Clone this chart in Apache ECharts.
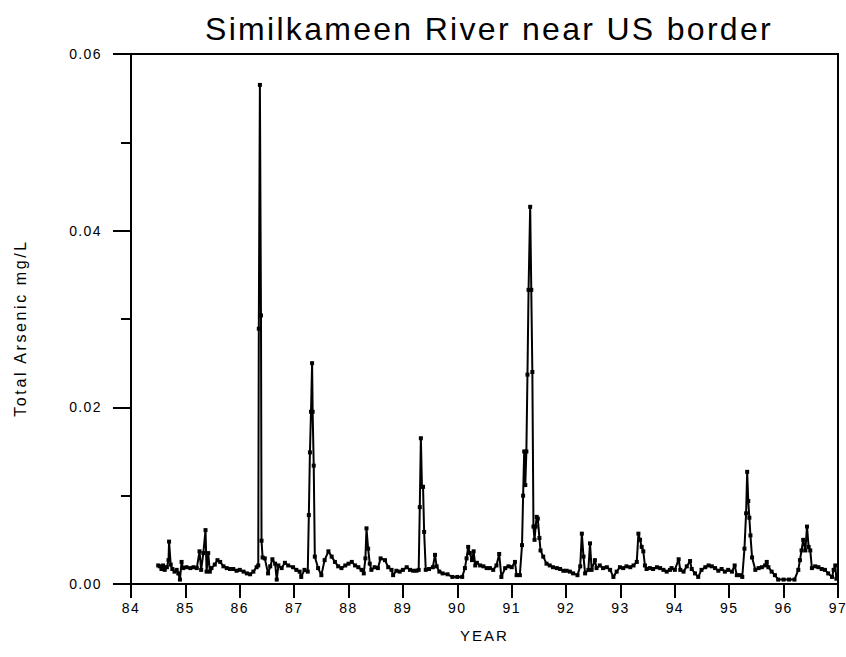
<!DOCTYPE html>
<html><head><meta charset="utf-8">
<script src="https://cdn.jsdelivr.net/npm/echarts@6/dist/echarts.min.js"></script>
<style>
html,body{margin:0;padding:0;background:#fff}
#c{width:846px;height:657px}
#c text[style*="32px"]{letter-spacing:2.3px}
#c text[style*="16px"]{letter-spacing:2.6px}
#c text[style*="15px"]{letter-spacing:2px}
#c text[style*="14px"]{letter-spacing:1.4px}
</style>
</head><body><div id="c"></div>
<script>
const titleText = "Similkameen River near US border";
const yName = "Total Arsenic mg/L";
const xName = "YEAR";
const yearTicks = [84,85,86,87,88,89,90,91,92,93,94,95,96,97];
const years = [84.50,84.53,84.56,84.59,84.62,84.66,84.69,84.70,84.73,84.76,84.80,84.84,84.87,84.90,84.93,84.96,85.02,85.09,85.15,85.21,85.26,85.29,85.33,85.37,85.39,85.42,85.45,85.48,85.54,85.59,85.64,85.70,85.76,85.82,85.88,85.94,86.00,86.07,86.13,86.19,86.25,86.31,86.34,86.35,86.37,86.39,86.40,86.42,86.46,86.52,86.56,86.60,86.65,86.68,86.71,86.77,86.83,86.89,86.98,87.04,87.10,87.13,87.19,87.25,87.27,87.29,87.31,87.33,87.34,87.36,87.38,87.44,87.50,87.56,87.63,87.69,87.75,87.81,87.87,87.94,88.00,88.06,88.12,88.18,88.24,88.28,88.31,88.33,88.36,88.39,88.42,88.48,88.54,88.59,88.67,88.73,88.79,88.82,88.88,88.94,89.00,89.07,89.13,89.19,89.25,89.29,89.31,89.33,89.35,89.37,89.39,89.42,89.48,89.55,89.59,89.62,89.67,89.73,89.82,89.91,90.00,90.09,90.14,90.17,90.20,90.23,90.27,90.30,90.33,90.36,90.42,90.48,90.54,90.60,90.66,90.72,90.77,90.81,90.88,90.94,91.00,91.06,91.09,91.15,91.19,91.21,91.23,91.25,91.27,91.29,91.31,91.34,91.36,91.38,91.40,91.42,91.44,91.46,91.48,91.51,91.53,91.58,91.64,91.70,91.76,91.83,91.89,91.95,92.01,92.07,92.13,92.21,92.26,92.29,92.32,92.35,92.41,92.44,92.47,92.53,92.56,92.62,92.68,92.75,92.81,92.87,92.93,92.99,93.05,93.11,93.18,93.24,93.30,93.33,93.36,93.39,93.42,93.45,93.48,93.54,93.60,93.67,93.73,93.79,93.85,93.91,93.94,94.00,94.07,94.10,94.16,94.22,94.28,94.31,94.37,94.43,94.49,94.56,94.62,94.68,94.74,94.80,94.86,94.92,94.98,95.05,95.10,95.14,95.20,95.24,95.28,95.31,95.33,95.35,95.37,95.39,95.42,95.48,95.54,95.60,95.66,95.69,95.72,95.78,95.84,95.90,96.00,96.10,96.20,96.27,96.30,96.33,96.36,96.40,96.43,96.46,96.49,96.52,96.58,96.64,96.70,96.76,96.82,96.89,96.92,96.95,96.97];
const arsenic = [.0021,.0020,.0017,.0021,.0016,.0019,.0027,.0048,.0022,.0017,.0014,.0016,.0012,.0005,.0025,.0018,.0019,.0018,.0019,.0018,.0037,.0016,.0035,.0061,.0014,.0035,.0014,.0018,.0022,.0027,.0025,.0020,.0018,.0017,.0017,.0015,.0016,.0014,.0012,.0011,.0014,.0019,.0021,.0289,.0565,.0304,.0049,.0030,.0029,.0012,.0020,.0028,.0023,.0005,.0021,.0018,.0024,.0021,.0019,.0016,.0014,.0008,.0016,.0014,.0078,.0149,.0195,.0250,.0195,.0134,.0031,.0018,.0010,.0027,.0037,.0031,.0025,.0020,.0018,.0021,.0023,.0025,.0021,.0019,.0016,.0012,.0029,.0063,.0040,.0023,.0016,.0019,.0018,.0029,.0027,.0019,.0016,.0010,.0015,.0014,.0016,.0019,.0016,.0015,.0015,.0016,.0087,.0165,.0110,.0110,.0059,.0016,.0017,.0019,.0033,.0020,.0014,.0012,.0011,.0008,.0008,.0008,.0018,.0029,.0042,.0035,.0027,.0037,.0021,.0024,.0021,.0020,.0018,.0018,.0016,.0021,.0034,.0008,.0018,.0020,.0019,.0025,.0010,.0010,.0044,.0100,.0150,.0112,.0150,.0237,.0333,.0427,.0333,.0240,.0065,.0050,.0065,.0076,.0074,.0052,.0038,.0031,.0023,.0021,.0019,.0018,.0017,.0015,.0015,.0014,.0012,.0010,.0020,.0057,.0031,.0012,.0016,.0046,.0016,.0027,.0018,.0021,.0018,.0019,.0016,.0008,.0014,.0019,.0018,.0020,.0019,.0021,.0025,.0057,.0050,.0042,.0037,.0021,.0017,.0018,.0017,.0019,.0018,.0016,.0014,.0016,.0018,.0016,.0028,.0016,.0014,.0020,.0026,.0017,.0012,.0008,.0016,.0019,.0021,.0020,.0018,.0015,.0017,.0014,.0016,.0014,.0021,.0010,.0010,.0008,.0040,.0080,.0127,.0094,.0075,.0055,.0030,.0016,.0018,.0019,.0021,.0025,.0019,.0014,.0010,.0005,.0005,.0005,.0005,.0016,.0027,.0038,.0050,.0038,.0065,.0042,.0038,.0018,.0020,.0019,.0017,.0016,.0012,.0008,.0016,.0021,.0006];

const seriesData = years.map((y, i) => [y, arsenic[i]]);
const font = "Liberation Sans, Arial, sans-serif";
const chart = echarts.init(document.getElementById('c'), null, {renderer: 'svg'});
chart.setOption({
  animation: false,
  backgroundColor: '#fff',
  title: {
    text: titleText, left: 484, top: 8, textAlign: 'center',
    textStyle: {fontFamily: font, fontSize: 32, fontWeight: 'normal', color: '#000'}
  },
  grid: {left: 131, right: 8, top: 54, bottom: 73, outerBoundsMode: 'none', containLabel: false,
         show: true, borderColor: '#000', borderWidth: 2, backgroundColor: 'transparent'},
  xAxis: {
    type: 'value', min: yearTicks[0], max: yearTicks[yearTicks.length - 1], interval: 1,
    name: xName, nameLocation: 'middle', nameGap: 44,
    nameTextStyle: {fontFamily: font, fontSize: 15, color: '#000'},
    axisLine: {show: true, onZero: false, lineStyle: {color: '#000', width: 2}},
    axisTick: {show: true, inside: false, length: 14, lineStyle: {color: '#000', width: 2}},
    axisLabel: {margin: 17, fontFamily: font, fontSize: 14, color: '#000'},
    splitLine: {show: false}
  },
  yAxis: {
    type: 'value', min: 0, max: 0.06, interval: 0.02,
    name: yName, nameLocation: 'middle', nameGap: 103,
    nameTextStyle: {fontFamily: font, fontSize: 16, color: '#000', padding: [0, 18, 0, 0]},
    axisLine: {show: true, lineStyle: {color: '#000', width: 2}},
    axisTick: {show: true, inside: false, length: 18, lineStyle: {color: '#000', width: 2}},
    minorTick: {show: true, splitNumber: 2, length: 10, lineStyle: {color: '#000', width: 2}},
    axisLabel: {margin: 29, fontFamily: font, fontSize: 14, color: '#000', formatter: v => v.toFixed(2)},
    splitLine: {show: false}
  },
  series: [{
    type: 'line', data: seriesData,
    symbol: 'rect', symbolSize: 4, showSymbol: true,
    itemStyle: {color: '#000'},
    lineStyle: {color: '#000', width: 2}
  }]
});
</script></body></html>
